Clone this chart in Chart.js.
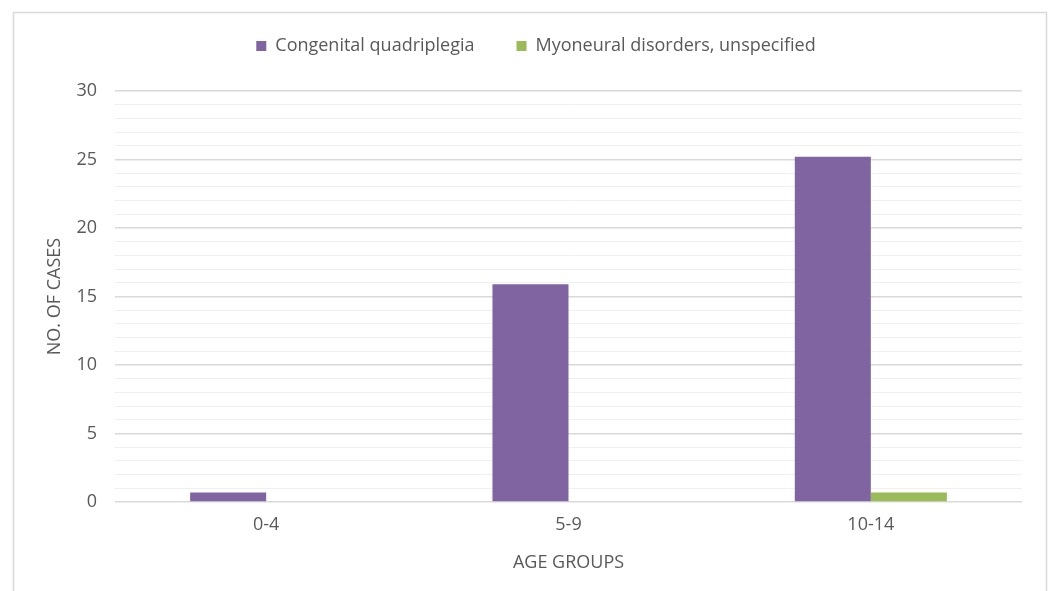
<!DOCTYPE html>
<html>
<head>
<meta charset="utf-8">
<script src="https://cdn.jsdelivr.net/npm/chart.js@4"></script>
<style>
  html, body { margin: 0; padding: 0; background: #ffffff; }
  #wrap { width: 1051px; height: 591px; position: relative; }
</style>
</head>
<body>
<div id="wrap"><canvas id="c" width="1051" height="591"></canvas></div>
<script>
const categories = ['0-4', '5-9', '10-14'];
const congenitalQuadriplegia = [0.7, 15.9, 25.2];
const myoneuralDisorders = [0, 0, 0.7];
const seriesNames = ['Congenital quadriplegia', 'Myoneural disorders, unspecified'];
const yTickLabels = [0, 5, 10, 15, 20, 25, 30];

const frame = {
  id: 'frame',
  beforeInit(chart) {
    const lg = chart.legend;
    if (lg) {
      const fit = lg.fit;
      lg.fit = function () { fit.call(this); this.height = 97; };
      const draw = lg.draw;
      lg.draw = function () {
        const c = this.ctx;
        c.save();
        c.translate(18, 1);
        draw.call(this);
        c.restore();
      };
    }
  },
  beforeDraw(chart) {
    const ctx = chart.ctx;
    ctx.save();
    ctx.fillStyle = '#ffffff';
    ctx.fillRect(0, 0, chart.width, chart.height);
    ctx.strokeStyle = '#d9d9d9';
    ctx.lineWidth = 1.5;
    ctx.strokeRect(13.5, 12.5, 1033, 620);
    ctx.restore();
  }
};

const textColor = '#595959';
const fontFamily = "'Open Sans', 'Noto Sans', sans-serif";
const fs = 18;

new Chart(document.getElementById('c'), {
  type: 'bar',
  data: {
    labels: categories,
    datasets: [
      { label: seriesNames[0], data: congenitalQuadriplegia, backgroundColor: '#8064a2', categoryPercentage: 0.503, barPercentage: 1.0 },
      { label: seriesNames[1], data: myoneuralDisorders, backgroundColor: '#9bbb59', categoryPercentage: 0.503, barPercentage: 1.0 }
    ]
  },
  options: {
    responsive: false,
    animation: false,
    layout: { padding: { left: 14, right: 29, top: -6, bottom: 8 } },
    plugins: {
      legend: {
        position: 'top',
        labels: {
          color: textColor,
          font: { family: fontFamily, size: fs },
          boxWidth: 10, boxHeight: 10,
          usePointStyle: true, pointStyle: 'rect',
          padding: 42
        }
      },
      tooltip: { enabled: false }
    },
    scales: {
      x: {
        afterFit(scale) { scale.height = 81; },
        grid: { display: false },
        border: { display: false },
        ticks: { color: textColor, font: { family: fontFamily, size: fs }, padding: 4 },
        title: { display: true, text: 'AGE GROUPS', color: textColor, font: { family: fontFamily, size: fs }, padding: { top: 4, bottom: 9 } }
      },
      y: {
        min: 0, max: 30,
        afterFit(scale) { scale.width = 101; },
        afterBuildTicks(scale) {
          const t = [];
          for (let v = 0; v <= 30; v++) t.push({ value: v });
          scale.ticks = t;
        },
        grid: {
          drawTicks: false,
          color(ctx) { return (ctx.tick && ctx.tick.value % 5 === 0) ? '#d9d9d9' : '#f0f0f0'; },
          lineWidth(ctx) { return (ctx.tick && ctx.tick.value % 5 === 0) ? 1.5 : 1; }
        },
        border: { display: false },
        ticks: {
          autoSkip: false,
          color: textColor,
          font: { family: fontFamily, size: fs },
          padding: 18,
          callback(v) { return yTickLabels.includes(v) ? String(v) : ''; }
        },
        title: { display: true, text: 'NO. OF CASES', color: textColor, font: { family: fontFamily, size: fs }, padding: { top: 30, bottom: 8 } }
      }
    }
  },
  plugins: [frame]
});
</script>
</body>
</html>
